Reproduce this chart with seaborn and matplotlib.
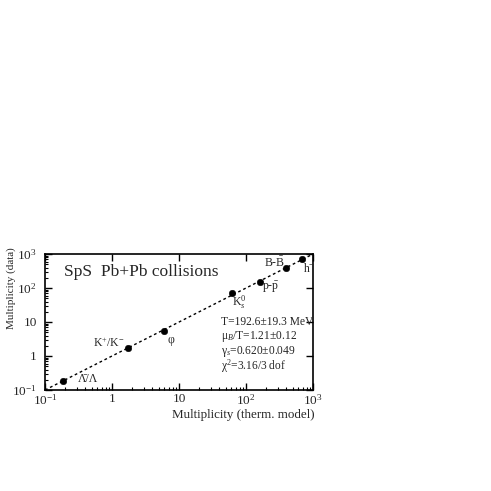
import numpy as np
import pandas as pd
import matplotlib
matplotlib.use("Agg")
import matplotlib.pyplot as plt
import seaborn as sns
from matplotlib.ticker import LogLocator, FixedLocator, FixedFormatter, NullFormatter

particles = ["Λ̄/Λ", "K$^{+}$/K$^{-}$", "φ", "K$^{0}_{s}$", "p-$\\bar{\\rm p}$", "B-$\\bar{\\rm B}$", "h$^{-}$"]
model = [0.187, 1.71, 5.97, 61.0, 162.0, 398.0, 676.0]
data = [0.187, 1.75, 5.4, 69.0, 155.0, 380.0, 708.0]
line_x = [0.1, 1000.0]
tick_vals = [0.1, 1, 10, 100, 1000]
tick_labels = ["$10^{-1}$", "1", "10", "$10^{2}$", "$10^{3}$"]
fit_text = ["T=192.6±19.3 MeV", "μ$_{B}$/T=1.21±0.12", "γ$_{s}$=0.620±0.049", "χ$^{2}$=3.16/3 dof"]

sns.set_style("white")
plt.rcParams["font.family"] = ["Liberation Serif", "DejaVu Serif"]
plt.rcParams["mathtext.fontset"] = "custom"
plt.rcParams["mathtext.rm"] = "Liberation Serif"
plt.rcParams["mathtext.it"] = "Liberation Serif:italic"

fig = plt.figure(figsize=(4.91, 4.91), dpi=100)
ax = fig.add_axes([0.0917, 0.2057, 0.546, 0.277])

df = pd.DataFrame({"model": model, "data": data})
sns.lineplot(x=line_x, y=line_x, ax=ax, color="black", linestyle=(0, (2, 2)), linewidth=1.0)
sns.scatterplot(data=df, x="model", y="data", ax=ax, color="black", s=22, edgecolor="black", zorder=3)

ax.set_xscale("log")
ax.set_yscale("log")
ax.set_xlim(0.1, 1000)
ax.set_ylim(0.1, 1000)

for axis in (ax.xaxis, ax.yaxis):
    axis.set_major_locator(FixedLocator(tick_vals))
    axis.set_major_formatter(FixedFormatter(tick_labels))
    axis.set_minor_locator(LogLocator(base=10, subs=np.arange(2, 10), numticks=20))
    axis.set_minor_formatter(NullFormatter())

ax.tick_params(which="major", direction="in", length=5, width=1, color="black",
               bottom=True, left=True, top=True, right=True, labelsize=9.5)
ax.tick_params(axis="x", which="major", pad=2)
ax.tick_params(axis="y", which="major", pad=6)
ax.tick_params(which="minor", direction="in", length=2.5, width=0.8, color="black",
               bottom=True, left=True, top=False, right=False)
for s in ax.spines.values():
    s.set_linewidth(1.2)
    s.set_color("black")

ax.set_xlabel("Multiplicity (therm. model)", fontsize=9.4, va="center")
ax.xaxis.set_label_coords(0.739, -0.185)
ax.set_ylabel("Multiplicity (data)", fontsize=8, va="center")
ax.yaxis.set_label_coords(-0.125, 0.75)

ax.text(0.07, 0.84, "SpS  Pb+Pb collisions", transform=ax.transAxes, fontsize=12.5)

label_pos = [(15, 2, "left"), (-3, 5, "right"), (3, -9, "left"), (0, -9, "left"),
             (2, -6, "left"), (-1, 5, "right"), (1, -9, "left")]
for name, mx, dy, (ox, oy, ha) in zip(particles, model, data, label_pos):
    ax.annotate(name, (mx, dy), xytext=(ox, oy), textcoords="offset pixels",
                fontsize=8.5, va="center", ha=ha)

for i, t in enumerate(fit_text):
    ax.text(0.658, 0.50 - i * 0.108, t, transform=ax.transAxes, fontsize=8.3, va="center")

fig.savefig("out.png", dpi=100, facecolor="white")
